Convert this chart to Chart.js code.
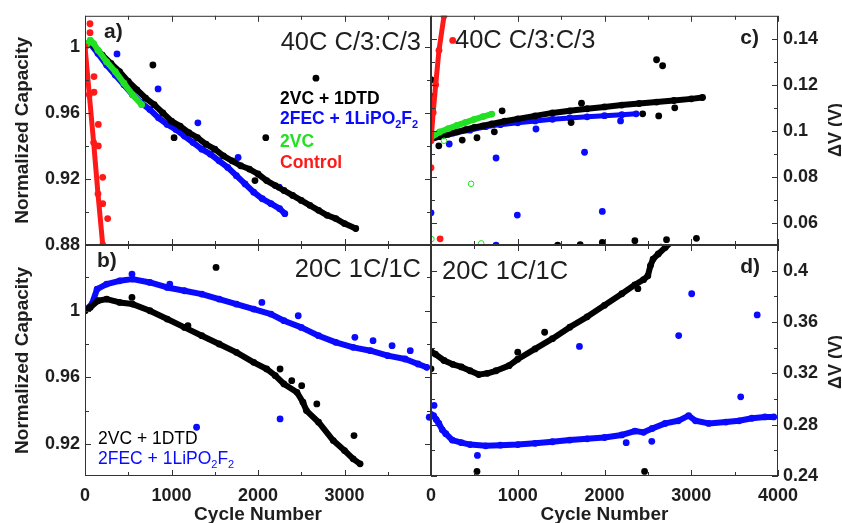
<!DOCTYPE html>
<html lang="en">
<head>
  <meta charset="UTF-8">
  <title>Normalized Capacity and ΔV vs Cycle Number</title>
  <script src="https://cdn.jsdelivr.net/npm/chart.js"></script>
  <style>
    body { margin: 0; background: #fff; }
    .wrap { position: relative; width: 842px; height: 523px; }
    .wrap canvas { position: absolute; left: 0; top: 0; }
  </style>
</head>
<body>
  <div class="wrap">
    <canvas id="panelA" width="842" height="523"></canvas>
    <canvas id="panelB" width="842" height="523"></canvas>
    <canvas id="panelC" width="842" height="523"></canvas>
    <canvas id="panelD" width="842" height="523"></canvas>
  </div>

  <script>
    // ---- shared axes ----
    const xTicks = [0, 1000, 2000, 3000, 4000];
    const xMinor = [500, 1500, 2500, 3500];

    // ---- a) normalized capacity, 40C C/3:C/3 ----
    const aYTicks = [0.88, 0.92, 0.96, 1];
    const aYMinor = [0.9, 0.94, 0.98];
    const aBlackCyc = [0, 60, 100, 200, 300, 400, 500, 600, 700, 800, 900, 1000, 1100, 1200, 1300, 1400, 1500, 1600, 1700, 1800, 1900, 2000, 2100, 2200, 2300, 2400, 2500, 2600, 2700, 2800, 2900, 3000, 3130];
    const aBlackCap = [1.000, 1.003, 1.001, 0.995, 0.990, 0.985, 0.979, 0.974, 0.969, 0.965, 0.960, 0.955, 0.952, 0.948, 0.945, 0.941, 0.938, 0.934, 0.931, 0.928, 0.926, 0.923, 0.919, 0.916, 0.913, 0.910, 0.907, 0.904, 0.901, 0.898, 0.896, 0.893, 0.890];
    const aBlackOutCyc = [785, 1030, 1965, 2090, 2670];
    const aBlackOutCap = [0.989, 0.945, 0.919, 0.945, 0.981];
    const aBlueCyc = [0, 60, 150, 250, 350, 450, 550, 650, 750, 850, 950, 1050, 1150, 1250, 1350, 1450, 1550, 1650, 1750, 1850, 1950, 2050, 2150, 2250, 2310];
    const aBlueCap = [1.000, 1.002, 0.996, 0.989, 0.983, 0.977, 0.971, 0.966, 0.962, 0.957, 0.953, 0.950, 0.946, 0.942, 0.938, 0.935, 0.931, 0.927, 0.922, 0.917, 0.912, 0.908, 0.905, 0.902, 0.899];
    const aBlueOutCyc = [370, 845, 1305, 1770, 2245];
    const aBlueOutCap = [0.9957, 0.9745, 0.954, 0.933, 0.915];
    const aGreenCyc = [0, 30, 60, 100, 150, 250, 350, 450, 550, 655];
    const aGreenCap = [1.000, 1.002, 1.004, 1.002, 0.998, 0.991, 0.985, 0.978, 0.971, 0.965];
    const aRedCyc = [0, 50, 100, 150, 205, 215];
    const aRedCap = [1.000, 0.971, 0.942, 0.911, 0.880, 0.874];
    const aRedOutCyc = [58, 58, 104, 104, 154, 154, 205, 205, 262];
    const aRedOutCap = [1.014, 1.0086, 0.982, 0.9725, 0.953, 0.940, 0.921, 0.905, 0.896];

    // ---- b) normalized capacity, 20C 1C/1C ----
    const bYTicks = [0.92, 0.96, 1];
    const bYMinor = [0.94, 0.98, 1.02];
    const bBlackCyc = [0, 60, 150, 250, 400, 550, 750, 950, 1150, 1350, 1550, 1750, 1950, 2100, 2200, 2300, 2450, 2520, 2560, 2700, 2870, 3000, 3100, 3180];
    const bBlackCap = [1.000, 1.002, 1.006, 1.007, 1.005, 1.004, 1.000, 0.995, 0.990, 0.985, 0.980, 0.975, 0.969, 0.965, 0.961, 0.956, 0.951, 0.945, 0.940, 0.933, 0.922, 0.916, 0.911, 0.908];
    const bBlackOutCyc = [543, 1190, 1515, 2255, 2390, 2505, 2680, 3110];
    const bBlackOutCap = [1.008, 0.991, 1.026, 0.965, 0.958, 0.955, 0.944, 0.925];
    const bBlueCyc = [0, 80, 140, 250, 400, 550, 750, 950, 1150, 1350, 1550, 1750, 1950, 2150, 2300, 2500, 2700, 2900, 3100, 3300, 3500, 3700, 3850, 3950];
    const bBlueCap = [1.000, 1.004, 1.013, 1.016, 1.018, 1.019, 1.017, 1.014, 1.012, 1.010, 1.007, 1.004, 1.001, 0.998, 0.994, 0.990, 0.985, 0.981, 0.978, 0.976, 0.973, 0.971, 0.968, 0.966];
    const bBlueOutCyc = [543, 980, 1290, 2045, 2255, 2465, 3120, 3330, 3550, 3760, 3980];
    const bBlueOutCap = [1.022, 1.016, 0.930, 1.005, 0.935, 0.997, 0.984, 0.982, 0.979, 0.976, 0.936];

    // ---- c) delta V, 40C C/3:C/3 ----
    const cYTicks = [0.06, 0.08, 0.1, 0.12, 0.14];
    const cYMinor = [0.07, 0.09, 0.11, 0.13];
    const cBlackCyc = [0, 100, 200, 300, 400, 500, 600, 700, 850, 1000, 1200, 1400, 1600, 1800, 2000, 2200, 2400, 2600, 2800, 3000, 3130];
    const cBlackDv = [0.0965, 0.0975, 0.0985, 0.0995, 0.1005, 0.1015, 0.1022, 0.1030, 0.1042, 0.1052, 0.1065, 0.1078, 0.1087, 0.1096, 0.1104, 0.1112, 0.1119, 0.1125, 0.1132, 0.1139, 0.1145];
    const cBlackOutCyc = [0, 30, 15, 90, 360, 530, 730, 820, 1615, 1735, 2440, 2600, 2625, 2670, 2810, 1460, 1720, 1975, 2350, 2715, 3060, 2650];
    const cBlackOutDv = [0.1222, 0.115, 0.110, 0.0935, 0.096, 0.097, 0.0996, 0.1087, 0.1036, 0.112, 0.1074, 0.1309, 0.1065, 0.1283, 0.110, 0.0503, 0.0505, 0.0515, 0.0523, 0.0527, 0.0533, 0.0495];
    const cBlueCyc = [35, 100, 250, 450, 630, 800, 1000, 1200, 1400, 1600, 1800, 2000, 2200, 2365];
    const cBlueDv = [0.0970, 0.0975, 0.0990, 0.1003, 0.1018, 0.1027, 0.1035, 0.1043, 0.1050, 0.1056, 0.1061, 0.1066, 0.1070, 0.1074];
    const cBlueOutCyc = [210, 750, 1210, 1770, 0, 995, 1975, 750, 2185];
    const cBlueOutDv = [0.0943, 0.0882, 0.1008, 0.0907, 0.0644, 0.0634, 0.0650, 0.0503, 0.1043];
    const cGreenCyc = [0, 50, 100, 200, 300, 400, 500, 600, 700];
    const cGreenDv = [0.0970, 0.0985, 0.0995, 0.1010, 0.1024, 0.1037, 0.1050, 0.1062, 0.1073];
    const cGreenOutCyc = [150, 462, 578, 5];
    const cGreenOutDv = [0.0957, 0.0770, 0.0511, 0.0530];
    const cRedCyc = [0, 25, 54, 92, 150, 175];
    const cRedDv = [0.0957, 0.108, 0.120, 0.135, 0.150, 0.155];
    const cRedOutCyc = [250, 0, 105];
    const cRedOutDv = [0.1393, 0.084, 0.0531];

    // ---- d) delta V, 20C 1C/1C ----
    const dYTicks = [0.24, 0.28, 0.32, 0.36, 0.4];
    const dYMinor = [0.26, 0.3, 0.34, 0.38];
    const dBlackCyc = [0, 50, 150, 250, 350, 450, 550, 650, 750, 900, 1000, 1200, 1400, 1600, 1800, 2000, 2200, 2350, 2450, 2500, 2530, 2560, 2620, 2700, 2780];
    const dBlackDv = [0.337, 0.335, 0.330, 0.327, 0.325, 0.322, 0.319, 0.320, 0.322, 0.326, 0.331, 0.339, 0.347, 0.356, 0.364, 0.373, 0.382, 0.389, 0.393, 0.396, 0.404, 0.409, 0.413, 0.418, 0.423];
    const dBlackOutCyc = [0, 1000, 1310, 2385, 530, 2462];
    const dBlackOutDv = [0.3235, 0.3365, 0.352, 0.386, 0.2436, 0.2436];
    const dBlueCyc = [0, 30, 60, 90, 130, 170, 245, 350, 450, 630, 800, 1000, 1200, 1400, 1600, 1800, 2000, 2200, 2350, 2450, 2550, 2700, 2850, 2970, 3050, 3200, 3400, 3550, 3700, 3850, 3950];
    const dBlueDv = [0.288, 0.287, 0.284, 0.281, 0.276, 0.273, 0.268, 0.266, 0.2645, 0.2635, 0.264, 0.2645, 0.2655, 0.2667, 0.268, 0.269, 0.270, 0.272, 0.275, 0.274, 0.277, 0.281, 0.283, 0.287, 0.283, 0.281, 0.282, 0.283, 0.285, 0.286, 0.286];
    const dBlueOutCyc = [35, 535, 1711, 2250, 2545, 2855, 3005, 3570, 3760];
    const dBlueOutDv = [0.295, 0.256, 0.341, 0.266, 0.267, 0.3494, 0.382, 0.3017, 0.3655];

    // ---- styling ----
    const FONT = '"Liberation Sans", Arial, Helvetica, sans-serif';
    const BLACK = '#000000';
    const BLUE = '#0a0aff';
    const GREEN = '#22e022';
    const RED = '#ff1a1a';
    const INK = '#1e1e1e';

    const pts = (xs, ys) => xs.map((x, i) => ({ x: x, y: ys[i] }));

    function band(xs, ys, color, width) {
      return {
        data: pts(xs, ys), showLine: true,
        borderColor: color, backgroundColor: color, borderWidth: width,
        borderJoinStyle: 'round', borderCapStyle: 'round',
        pointRadius: 3.4, pointBorderWidth: 0, pointBackgroundColor: color
      };
    }
    function dots(xs, ys, color) {
      return {
        data: pts(xs, ys), showLine: false,
        pointRadius: 3.4, pointBorderWidth: 0,
        pointBackgroundColor: color, backgroundColor: color, borderColor: color
      };
    }
    function rings(xs, ys, color) {
      return {
        data: pts(xs, ys), showLine: false,
        pointRadius: 2.8, pointBorderWidth: 1,
        pointBackgroundColor: 'rgba(0,0,0,0)', pointBorderColor: color, borderColor: color
      };
    }

    const LIPO = [{ s: '2FEC + 1LiPO' }, { s: '2', sub: true }, { s: 'F' }, { s: '2', sub: true }];

    // text drawn at its cap-height centre
    function drawText(ctx, t) {
      const size = t.size;
      const weight = t.weight || 'normal';
      const parts = typeof t.text === 'string' ? [{ s: t.text }] : t.text;
      const fontFor = p => weight + ' ' + (p.sub ? Math.round(size * 0.62) : size) + 'px ' + FONT;
      let w = 0;
      const widths = parts.map(p => { ctx.font = fontFor(p); const pw = ctx.measureText(p.s).width; w += pw; return pw; });
      ctx.save();
      ctx.translate(t.x, t.y);
      if (t.rot) ctx.rotate(t.rot);
      let x = t.align === 'right' ? -w : t.align === 'center' ? -w / 2 : 0;
      ctx.fillStyle = t.color || INK;
      ctx.textAlign = 'left';
      ctx.textBaseline = 'alphabetic';
      parts.forEach((p, i) => {
        ctx.font = fontFor(p);
        ctx.fillText(p.s, x, 0.36 * size + (p.sub ? 0.2 * size : 0));
        x += widths[i];
      });
      ctx.restore();
    }

    // frame, inward ticks and panel texts
    const framePlugin = {
      id: 'frame',
      afterDatasetsDraw(chart, args, opts) {
        const { ctx, chartArea: a, scales } = chart;
        ctx.save();
        ctx.strokeStyle = '#333';
        ctx.lineWidth = 1;
        ctx.strokeRect(a.left + 0.5, a.top + 0.5, a.right - a.left - 1, a.bottom - a.top - 1);
        ctx.beginPath();
        const xt = (vals, len) => vals.forEach(v => {
          const px = Math.round(scales.x.getPixelForValue(v)) + 0.5;
          ctx.moveTo(px, a.top); ctx.lineTo(px, a.top + len);
          ctx.moveTo(px, a.bottom); ctx.lineTo(px, a.bottom - len);
        });
        const yt = (vals, len) => vals.forEach(v => {
          const py = Math.round(scales.y.getPixelForValue(v)) + 0.5;
          ctx.moveTo(a.left, py); ctx.lineTo(a.left + len, py);
          ctx.moveTo(a.right, py); ctx.lineTo(a.right - len, py);
        });
        xt(xTicks, 6); xt(xMinor, 4);
        yt(opts.yTicks, 6); yt(opts.yMinor, 4);
        ctx.stroke();
        ctx.restore();
        opts.texts.forEach(t => drawText(ctx, t));
      }
    };

    function makePanel(id, p) {
      const tickFont = { family: FONT, size: 18, weight: 'bold' };
      return new Chart(document.getElementById(id), {
        type: 'scatter',
        data: { datasets: p.datasets },
        plugins: [framePlugin],
        options: {
          responsive: false,
          animation: false,
          devicePixelRatio: 1,
          events: [],
          layout: { padding: p.pad },
          plugins: {
            legend: { display: false },
            tooltip: { enabled: false },
            frame: { yTicks: p.yTicks, yMinor: p.yMinor, texts: p.texts }
          },
          scales: {
            x: {
              type: 'linear', position: 'bottom', min: 0, max: 4000,
              display: p.showX,
              grid: { display: false, drawTicks: false },
              border: { display: false },
              afterBuildTicks: s => { s.ticks = xTicks.map(v => ({ value: v })); },
              afterFit: s => { s.height = p.showX ? 47 : 0; },
              ticks: {
                padding: 9, autoSkip: false, maxRotation: 0, color: INK, font: tickFont,
                callback: v => (p.hideLastX && v === 4000) ? '' : String(v)
              },
              title: {
                display: true, text: 'Cycle Number', color: INK,
                font: { family: FONT, size: 19, weight: 'bold' },
                padding: { top: 0, bottom: -3 }
              }
            },
            y: {
              type: 'linear', position: p.side, min: p.yMin, max: p.yMax,
              grid: { display: false, drawTicks: false },
              border: { display: false },
              afterBuildTicks: s => { s.ticks = p.yTicks.map(v => ({ value: v })); },
              afterFit: s => { s.width = p.side === 'left' ? 85 : 64; },
              ticks: {
                padding: 5, autoSkip: false, color: INK, font: tickFont,
                callback: v => String(+Number(v).toFixed(2))
              },
              title: {
                display: p.side === 'left', text: 'Normalized Capacity', color: INK,
                font: { family: FONT, size: 19, weight: 'bold' },
                padding: { top: 11, bottom: 0 }
              }
            }
          }
        }
      });
    }

    makePanel('panelA', {
      side: 'left', showX: false, yMin: 0.88, yMax: 1.0188,
      yTicks: aYTicks, yMinor: aYMinor,
      pad: { left: 0, top: 15, right: 411, bottom: 278 },
      datasets: [
        band(aRedCyc, aRedCap, RED, 5),
        dots(aRedOutCyc, aRedOutCap, RED),
        band(aGreenCyc, aGreenCap, GREEN, 6),
        dots(aBlackOutCyc, aBlackOutCap, BLACK),
        band(aBlackCyc, aBlackCap, BLACK, 6),
        dots(aBlueOutCyc, aBlueOutCap, BLUE),
        band(aBlueCyc, aBlueCap, BLUE, 6)
      ],
      texts: [
        { text: 'a)', x: 104, y: 30, size: 21, weight: 'bold' },
        { text: '40C C/3:C/3', x: 421, y: 41, size: 25.5, align: 'right' },
        { text: '2VC + 1DTD', x: 280, y: 98, size: 17.5, weight: 'bold', color: BLACK },
        { text: LIPO, x: 280, y: 118, size: 17.5, weight: 'bold', color: BLUE },
        { text: '2VC', x: 280, y: 141, size: 17.5, weight: 'bold', color: GREEN },
        { text: 'Control', x: 280, y: 162, size: 17.5, weight: 'bold', color: RED }
      ]
    });

    makePanel('panelB', {
      side: 'left', showX: true, hideLastX: true, yMin: 0.9007, yMax: 1.0395,
      yTicks: bYTicks, yMinor: bYMinor,
      pad: { left: 0, top: 245, right: 411, bottom: 0 },
      datasets: [
        dots(bBlackOutCyc, bBlackOutCap, BLACK),
        band(bBlackCyc, bBlackCap, BLACK, 6),
        dots(bBlueOutCyc, bBlueOutCap, BLUE),
        band(bBlueCyc, bBlueCap, BLUE, 6)
      ],
      texts: [
        { text: 'b)', x: 97, y: 259, size: 21, weight: 'bold' },
        { text: '20C 1C/1C', x: 421, y: 267.5, size: 25.5, align: 'right' },
        { text: '2VC + 1DTD', x: 98, y: 438, size: 17.5, color: BLACK },
        { text: LIPO, x: 98, y: 458, size: 17.5, color: BLUE }
      ]
    });

    makePanel('panelC', {
      side: 'right', showX: false, yMin: 0.0504, yMax: 0.15,
      yTicks: cYTicks, yMinor: cYMinor,
      pad: { left: 431, top: 15, right: 0, bottom: 278 },
      datasets: [
        band(cRedCyc, cRedDv, RED, 5),
        dots(cRedOutCyc, cRedOutDv, RED),
        band(cGreenCyc, cGreenDv, GREEN, 6),
        rings(cGreenOutCyc, cGreenOutDv, GREEN),
        dots(cBlackOutCyc, cBlackOutDv, BLACK),
        band(cBlackCyc, cBlackDv, BLACK, 6),
        dots(cBlueOutCyc, cBlueOutDv, BLUE),
        band(cBlueCyc, cBlueDv, BLUE, 5)
      ],
      texts: [
        { text: '40C C/3:C/3', x: 455, y: 39, size: 25.5 },
        { text: 'c)', x: 759, y: 36, size: 21, weight: 'bold', align: 'right' },
        { text: 'ΔV (V)', x: 835, y: 130, size: 18, weight: 'bold', align: 'center', rot: -Math.PI / 2 }
      ]
    });

    makePanel('panelD', {
      side: 'right', showX: true, yMin: 0.24, yMax: 0.42,
      yTicks: dYTicks, yMinor: dYMinor,
      pad: { left: 431, top: 245, right: 0, bottom: 0 },
      datasets: [
        dots(dBlackOutCyc, dBlackOutDv, BLACK),
        band(dBlackCyc, dBlackDv, BLACK, 6),
        dots(dBlueOutCyc, dBlueOutDv, BLUE),
        band(dBlueCyc, dBlueDv, BLUE, 6)
      ],
      texts: [
        { text: '20C 1C/1C', x: 442, y: 269.5, size: 25.5 },
        { text: 'd)', x: 760, y: 265, size: 21, weight: 'bold', align: 'right' },
        { text: 'ΔV (V)', x: 835, y: 362, size: 18, weight: 'bold', align: 'center', rot: -Math.PI / 2 }
      ]
    });
  </script>
</body>
</html>
